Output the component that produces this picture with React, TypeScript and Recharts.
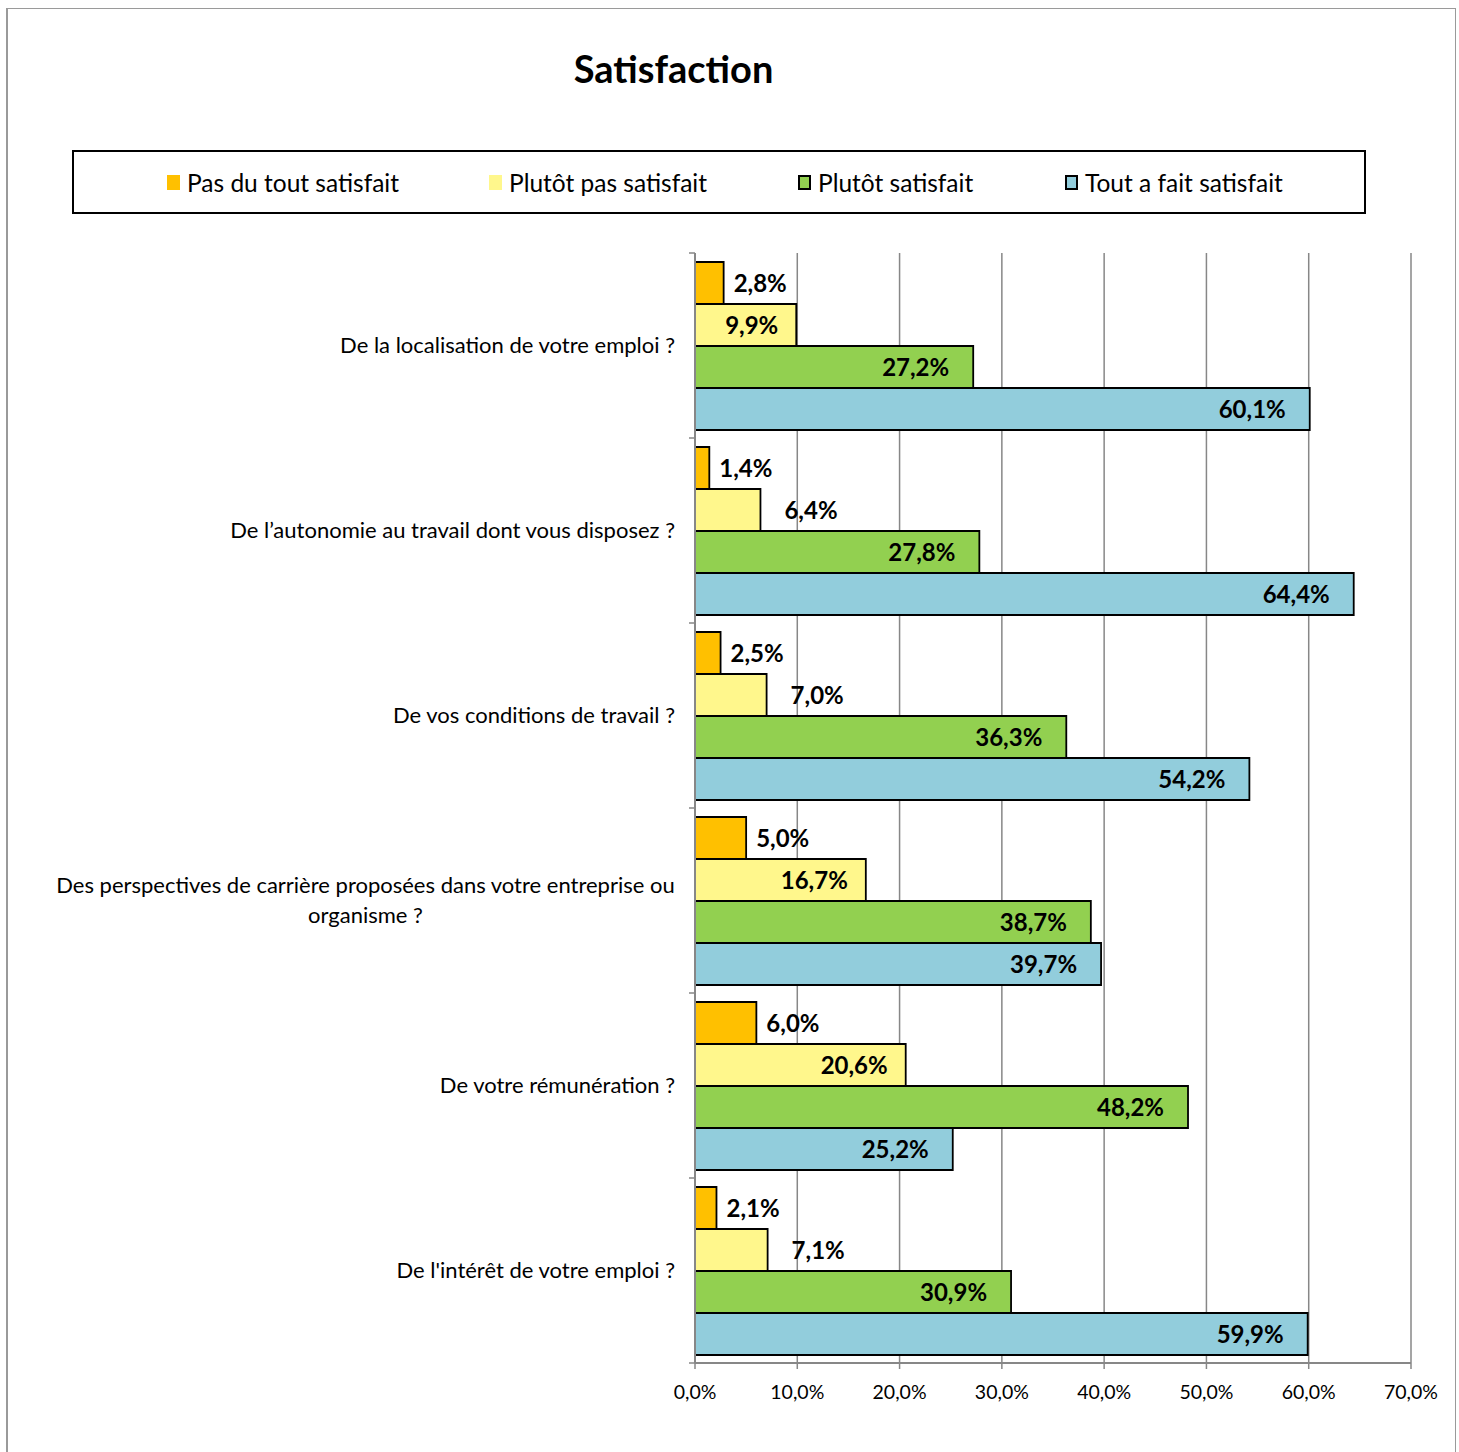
import React from 'react';
import { BarChart, Bar, XAxis, YAxis, CartesianGrid, LabelList } from 'recharts';

const categories = [
  'De la localisation de votre emploi ?',
  'De l’autonomie au travail dont vous disposez ?',
  'De vos conditions de travail ?',
  'Des perspectives de carrière proposées dans votre entreprise ou organisme ?',
  'De votre rémunération ?',
  "De l'intérêt de votre emploi ?",
];
const pasDuTout = [2.8, 1.4, 2.5, 5.0, 6.0, 2.1];
const plutotPas = [9.9, 6.4, 7.0, 16.7, 20.6, 7.1];
const plutotSatisfait = [27.2, 27.8, 36.3, 38.7, 48.2, 30.9];
const toutAFait = [60.1, 64.4, 54.2, 39.7, 25.2, 59.9];
const xTicks = [0, 10, 20, 30, 40, 50, 60, 70];
const seriesKeys = ['pasDuTout', 'plutotPas', 'plutotSatisfait', 'toutAFait'];
const seriesNames = ['Pas du tout satisfait', 'Plutôt pas satisfait', 'Plutôt satisfait', 'Tout a fait satisfait'];
const seriesColors = ['#FFC000', '#FFF78C', '#92D050', '#92CDDC'];
const legendStroke = ['none', 'none', '#000', '#000'];
const chartTitle = 'Satisfaction';

const data = categories.map((c, i) => ({
  category: c,
  pasDuTout: pasDuTout[i],
  plutotPas: plutotPas[i],
  plutotSatisfait: plutotSatisfait[i],
  toutAFait: toutAFait[i],
}));

const FONT = 'Lato, "Open Sans", sans-serif';
const GRAY = '#878787';
const fmt = (v: number) => v.toFixed(1).replace('.', ',') + '%';

let ctx: CanvasRenderingContext2D | null = null;
const measure = (t: string, font: string) => {
  if (!ctx) ctx = document.createElement('canvas').getContext('2d');
  if (!ctx) return t.length * 10;
  ctx.font = font;
  return ctx.measureText(t).width;
};

const TICK_SIZE = 6;
const TICK_MARGIN = 14;
const CAT_FONT_SIZE = 22;

const wrap = (text: string, maxW: number) => {
  const font = `${CAT_FONT_SIZE}px Lato`;
  const words = text.split(' ');
  const lines: string[] = [];
  let cur = '';
  words.forEach((w) => {
    const t = cur ? cur + ' ' + w : w;
    if (measure(t, font) > maxW && cur) {
      lines.push(cur);
      cur = w;
    } else cur = t;
  });
  if (cur) lines.push(cur);
  return lines;
};

const CategoryTick = (props: any) => {
  const { x, y, payload, index } = props;
  const half = payload && payload.offset ? payload.offset : 92.5;
  const axisX = x + TICK_SIZE + TICK_MARGIN;
  const lines = wrap(String(payload.value), 680);
  const font = `${CAT_FONT_SIZE}px Lato`;
  const maxW = Math.max(...lines.map((l) => measure(l, font)));
  const lh = 30;
  const startY = y - ((lines.length - 1) * lh) / 2;
  return (
    <g>
      <line x1={axisX - 6} x2={axisX} y1={y - half} y2={y - half} stroke={GRAY} strokeWidth={1.5} />
      {index === categories.length - 1 && (
        <line x1={axisX - 6} x2={axisX} y1={y + half} y2={y + half} stroke={GRAY} strokeWidth={1.5} />
      )}
      {lines.map((l, i) => (
        <text
          key={i}
          x={lines.length > 1 ? x - maxW / 2 : x}
          y={startY + i * lh}
          dy="0.35em"
          textAnchor={lines.length > 1 ? 'middle' : 'end'}
          fontSize={CAT_FONT_SIZE}
          fontFamily={FONT}
          fill="#000"
        >
          {l}
        </text>
      ))}
    </g>
  );
};

const makeLabel = (mode: 'outside' | 'auto' | 'inside', outOffset: number, inOffset: number) => (props: any) => {
  const vb = props.viewBox && props.viewBox.width != null ? props.viewBox : props;
  const { x, y, width, height } = vb;
  const value = Number(props.value);
  const inside = mode === 'inside' || (mode === 'auto' && value >= 9);
  const tx = inside ? x + width - inOffset : x + width + outOffset;
  return (
    <text
      x={tx}
      y={y + height / 2}
      dy="0.36em"
      textAnchor={inside ? 'end' : 'start'}
      fontWeight={700}
      fontSize={24}
      fontFamily={FONT}
      fill="#000"
    >
      {fmt(value)}
    </text>
  );
};

const labelModes: any[] = [
  makeLabel('outside', 10, 0),
  makeLabel('auto', 24, 18),
  makeLabel('inside', 0, 24),
  makeLabel('inside', 0, 24),
];

const legendLefts = [93, 415, 724, 991];

const LegendBox = () => (
  <div
    style={{
      position: 'absolute',
      left: 72,
      top: 150,
      width: 1294,
      height: 64,
      border: '2px solid #000',
      boxSizing: 'border-box',
      fontFamily: FONT,
      fontSize: 24.5,
      color: '#000',
    }}
  >
    {seriesNames.map((n, i) => (
      <div
        key={n}
        style={{ position: 'absolute', left: legendLefts[i], top: 0, height: 60, display: 'flex', alignItems: 'center', whiteSpace: 'nowrap' }}
      >
        <span
          style={{
            display: 'inline-block',
            width: 13,
            height: 15,
            background: seriesColors[i],
            border: legendStroke[i] === 'none' ? 'none' : '2px solid #000',
            boxSizing: 'border-box',
            marginRight: 7,
          }}
        />
        <span>{n}</span>
      </div>
    ))}
  </div>
);

export default function App() {
  return (
    <div style={{ position: 'absolute', left: 0, top: 0, width: 1459, height: 1452, overflow: 'hidden', background: '#fff' }}>
      <div
        style={{
          position: 'absolute',
          left: 6,
          top: 8,
          width: 1450,
          height: 1444,
          borderLeft: '2px solid #9a9a9a',
          borderTop: '1px solid #9a9a9a',
          borderRight: '1px solid #9a9a9a',
          boxSizing: 'border-box',
        }}
      />
      <div
        style={{
          position: 'absolute',
          left: 0,
          top: 44,
          width: 1347,
          textAlign: 'center',
          fontFamily: FONT,
          fontWeight: 700,
          fontSize: 38,
          lineHeight: '48px',
          color: '#000',
        }}
      >
        {chartTitle}
      </div>
      <LegendBox />
      <div style={{ position: 'absolute', left: 0, top: 0 }}>
        <BarChart
          width={1459}
          height={1452}
          data={data}
          layout="vertical"
          margin={{ top: 253, right: 48, bottom: 49, left: 0 }}
          barGap={0}
          barSize={42}
        >
          <CartesianGrid horizontal={false} vertical={true} stroke={GRAY} strokeWidth={1.5} />
          <XAxis
            type="number"
            domain={[0, 70]}
            ticks={xTicks}
            tickFormatter={fmt}
            interval={0}
            height={40}
            tickSize={6}
            tickMargin={16}
            axisLine={{ stroke: GRAY, strokeWidth: 2 }}
            tickLine={{ stroke: GRAY, strokeWidth: 1.5 }}
            tick={{ fontSize: 19.5, fontFamily: FONT, fill: '#000' }}
          />
          <YAxis
            type="category"
            dataKey="category"
            width={695}
            interval={0}
            tickSize={TICK_SIZE}
            tickMargin={TICK_MARGIN}
            tickLine={false}
            axisLine={{ stroke: GRAY, strokeWidth: 2 }}
            tick={<CategoryTick />}
          />
          {seriesKeys.map((k, i) => (
            <Bar
              key={k}
              dataKey={k}
              name={seriesNames[i]}
              fill={seriesColors[i]}
              stroke="#000"
              strokeWidth={1.8}
              isAnimationActive={false}
            >
              <LabelList dataKey={k} content={labelModes[i]} />
            </Bar>
          ))}
        </BarChart>
      </div>
    </div>
  );
}
